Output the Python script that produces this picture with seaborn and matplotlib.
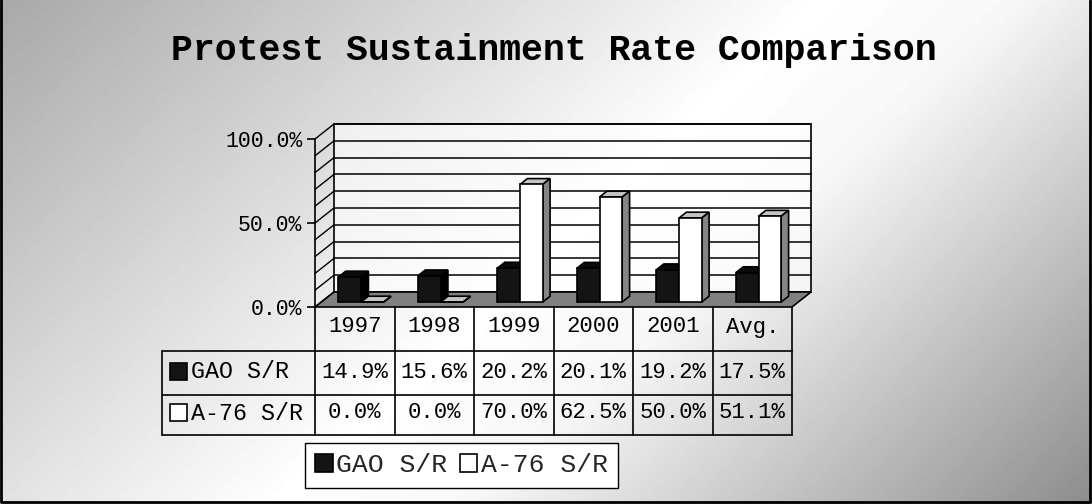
import numpy as np
import pandas as pd
import seaborn as sns
import matplotlib.pyplot as plt
import matplotlib.transforms as mtransforms
from matplotlib.patches import Polygon, Rectangle
from matplotlib.lines import Line2D

# data
years = ['1997', '1998', '1999', '2000', '2001', 'Avg.']
series = ['GAO S/R', 'A-76 S/R']
gao_rate = [14.9, 15.6, 20.2, 20.1, 19.2, 17.5]
a76_rate = [0.0, 0.0, 70.0, 62.5, 50.0, 51.1]
y_ticks = [0, 50, 100]
title = 'Protest Sustainment Rate Comparison'

df = pd.DataFrame({
    'year': years * 2,
    'series': [series[0]] * len(years) + [series[1]] * len(years),
    'rate': gao_rate + a76_rate,
})

W, H = 1092, 504
sns.set_theme(style='white')
plt.rcParams['font.family'] = ['Liberation Mono', 'DejaVu Sans Mono']

fig = plt.figure(figsize=(W / 100, H / 100), dpi=100)


def fx(px):
    return px / W


def fy(py):
    return 1 - py / H


# grey diagonal gradient background
bg = fig.add_axes([0, 0, 1, 1], zorder=-10)
xx, yy = np.meshgrid(np.arange(W), np.arange(H))
u = (xx + 1.09 * yy) / (W + 1.09 * H)
shade = np.interp(u, [0, 0.5, 0.62, 1], [0.66, 1.0, 0.97, 0.55])
bg.imshow(shade, cmap='gray', vmin=0, vmax=1, aspect='auto')
bg.axis('off')

# front plane of the 3d box
ax = fig.add_axes([fx(315), fy(307), fx(792) - fx(315), fy(139) - fy(307)])
ax.patch.set_alpha(0)

sns.barplot(data=df, x='year', y='rate', hue='series',
            palette={series[0]: '#141414', series[1]: 'white'},
            width=0.57, saturation=1, edgecolor='black', linewidth=1.2,
            legend=False, ax=ax)
bars = list(ax.patches)

ax.set_xlim(-0.5, len(years) - 0.5)
ax.set_ylim(0, 100)

# depth of the box in data units (19 px right, 15 px up)
DX = 19 / (477 / len(years))
DY = 15 / (168 / 100)
D0, D1 = 0.33, 0.72


def P(x, y, d):
    return (x + d * DX, y + d * DY)


x0, x1 = -0.5, len(years) - 0.5
wall_pts = [P(x0, 0, 1), P(x1, 0, 1), P(x1, 100, 1), P(x0, 100, 1)]
ax.add_patch(Polygon(wall_pts, closed=True, fc='white', alpha=0.6, ec='none',
                     zorder=1, clip_on=False))
ax.add_patch(Polygon(wall_pts, closed=True, fc='none', ec='black', lw=1.2,
                     zorder=1.3, clip_on=False))
for v in range(10, 101, 10):
    ax.plot([P(x0, v, 1)[0], P(x1, v, 1)[0]], [v + DY, v + DY],
            color='black', lw=1.1, zorder=1.2, clip_on=False)
for v in range(0, 101, 10):
    ax.plot([P(x0, v, 0)[0], P(x0, v, 1)[0]], [P(x0, v, 0)[1], P(x0, v, 1)[1]],
            color='black', lw=1.0, zorder=1.2, clip_on=False)

floor = Polygon([P(x0, 0, 0), P(x1, 0, 0), P(x1, 0, 1), P(x0, 0, 1)],
                closed=True, fc='#808080', ec='black', lw=1.2, zorder=2, clip_on=False)
ax.add_patch(floor)

# turn the flat seaborn bars into boxes
bars.sort(key=lambda b: b.get_x())
for i, b in enumerate(bars):
    x, w, h = b.get_x(), b.get_width(), b.get_height()
    light = b.get_facecolor()[0] > 0.5
    z = 3 + i * 0.01
    b.set_xy((x + D0 * DX, D0 * DY))
    b.set_zorder(z + 0.003)
    b.set_clip_on(False)
    top = Polygon([P(x, h, D0), P(x + w, h, D0), P(x + w, h, D1), P(x, h, D1)],
                  closed=True, fc='#c4c4c4' if light else '#0a0a0a',
                  ec='black', lw=1.2, zorder=z, clip_on=False)
    side = Polygon([P(x + w, 0, D0), P(x + w, h, D0), P(x + w, h, D1), P(x + w, 0, D1)],
                   closed=True, fc='#858585' if light else '#000000',
                   ec='black', lw=1.2, zorder=z, clip_on=False)
    ax.add_patch(top)
    ax.add_patch(side)
    if h > 0:
        ax.add_patch(Rectangle((x + D0 * DX, D0 * DY), w, h, fc='none',
                               ec='#d4d4d4' if light else '#3a3a3a',
                               lw=0, hatch='...', zorder=z + 0.002, clip_on=False))

# axes styling
for s in ['top', 'right', 'bottom']:
    ax.spines[s].set_visible(False)
ax.spines['left'].set_color('black')
ax.spines['left'].set_linewidth(1.2)
ax.spines['left'].set_zorder(2.5)
ax.set_xticks([])
ax.set_yticks(y_ticks)
ax.set_yticklabels([f'{v:.1f}%' for v in y_ticks])
ax.tick_params(axis='y', left=True, length=6, width=1.2, pad=3,
               labelsize=15.5, colors='black', direction='out')
ax.set_xlabel('')
ax.set_ylabel('')

# data table below the plot
tr = mtransforms.blended_transform_factory(ax.transData, fig.transFigure)
for b in np.arange(len(years) + 1) - 0.5:
    ax.add_line(Line2D([b, b], [fy(307), fy(435)], transform=tr,
                       color='black', lw=1.2, clip_on=False))
for py in [351, 395, 435]:
    fig.add_artist(Line2D([fx(162), fx(792)], [fy(py), fy(py)], color='black', lw=1.2))
fig.add_artist(Line2D([fx(162), fx(162)], [fy(351), fy(435)], color='black', lw=1.2))

for i, yr in enumerate(years):
    ax.text(i, fy(327), yr, transform=tr, ha='center', va='center', fontsize=16, color='black')
    ax.text(i, fy(372), f'{gao_rate[i]:.1f}%', transform=tr, ha='center', va='center',
            fontsize=16, color='black')
    ax.text(i, fy(413), f'{a76_rate[i]:.1f}%', transform=tr, ha='center', va='center',
            fontsize=16, color='black')

key_colors = ['#141414', 'white']
for name, col, py in zip(series, key_colors, [372, 413]):
    fig.add_artist(Rectangle((fx(170), fy(py + 8)), 17 / W, 17 / H,
                             fc=col, ec='black', lw=1.2))
    fig.text(fx(191), fy(py), name, ha='left', va='center', fontsize=16.8, color='black')

# legend
handles = [Rectangle((0, 0), 1, 1, fc=c, ec='black', lw=1.2) for c in key_colors]
leg = fig.legend(handles=handles, labels=series, loc='center',
                 bbox_to_anchor=(fx(461.5), fy(465.5)), ncol=2, frameon=True,
                 fancybox=False, edgecolor='black', framealpha=1, fontsize=19,
                 handlelength=0.65, handleheight=0.65, handletextpad=0.15,
                 columnspacing=0.45, borderpad=0.4, borderaxespad=0)
leg.get_frame().set_linewidth(1.0)

fig.text(fx(553.7), fy(50), title, ha='center', va='center',
         fontsize=26.3, fontweight='bold', color='black')

# outer border (left, bottom, right)
fig.add_artist(Line2D([fx(1), fx(1), fx(1090), fx(1090)],
                      [1, fy(502), fy(502), 1], color='black', lw=2))

fig.savefig('out.png', dpi=100)
